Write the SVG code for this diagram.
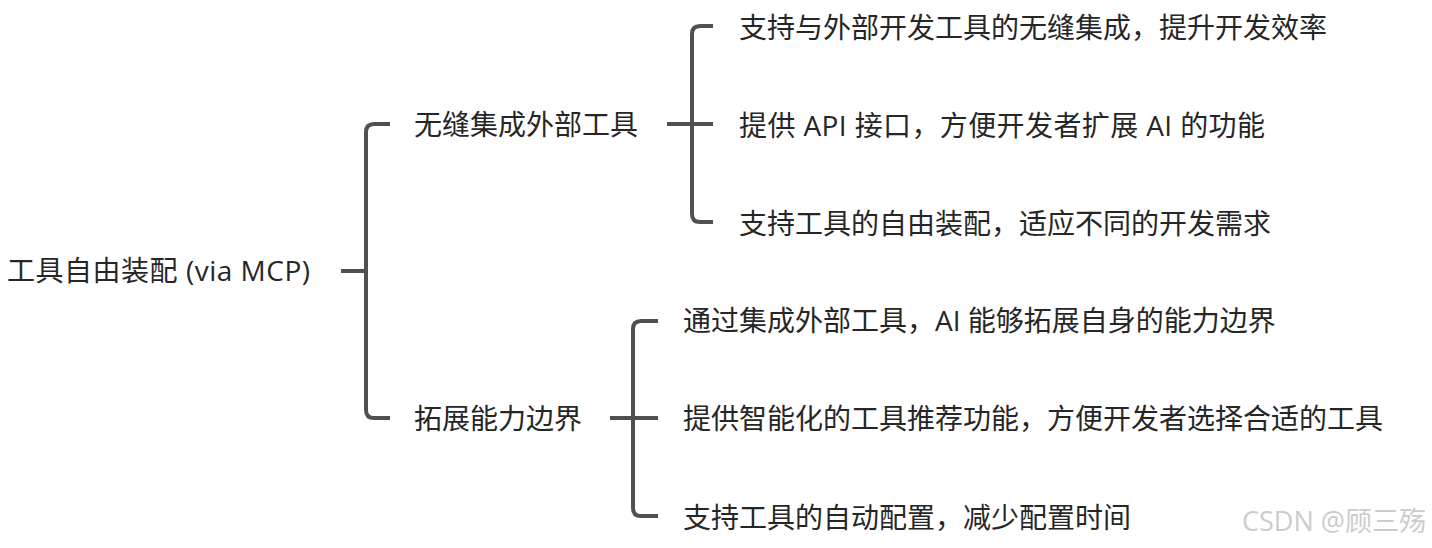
<svg xmlns="http://www.w3.org/2000/svg" width="1432" height="548" viewBox="0 0 1432 548">
<style>
text{font-family:'Open Sans','Noto Sans CJK SC',sans-serif;font-size:28px;fill:#262626}
.ln{fill:none;stroke:#505050;stroke-width:4;stroke-linecap:butt}
.wm{font-family:'Open Sans','Noto Sans CJK SC',sans-serif;font-size:27px;fill:#cccccc}
</style>
<rect width="1432" height="548" fill="#ffffff"/>
<g id="connectors">
<path class="ln" d="M341,271 H366"/>
<path class="ln" d="M390,124 H374 Q366,124 366,132 V410 Q366,418 374,418 H390"/>
<path class="ln" d="M667,124 H713"/>
<path class="ln" d="M713,26 H700 Q692,26 692,34 V214 Q692,222 700,222 H713"/>
<path class="ln" d="M610,418 H658"/>
<path class="ln" d="M658,321 H641 Q633,321 633,329 V508 Q633,516 641,516 H658"/>
</g>
<g id="root"><text x="7" y="281" textLength="303">工具自由装配 (via MCP)</text></g>
<g id="n1"><text x="414" y="135">无缝集成外部工具</text></g>
<g id="n1a"><text x="739" y="38">支持与外部开发工具的无缝集成，提升开发效率</text></g>
<g id="n1b"><text x="739" y="136" textLength="526">提供 API 接口，方便开发者扩展 AI 的功能</text></g>
<g id="n1c"><text x="739" y="234">支持工具的自由装配，适应不同的开发需求</text></g>
<g id="n2"><text x="414" y="429">拓展能力边界</text></g>
<g id="n2a"><text x="683" y="331">通过集成外部工具，AI 能够拓展自身的能力边界</text></g>
<g id="n2b"><text x="683" y="429">提供智能化的工具推荐功能，方便开发者选择合适的工具</text></g>
<g id="n2c"><text x="683" y="528">支持工具的自动配置，减少配置时间</text></g>
<g id="watermark"><text class="wm" x="1242" y="531">CSDN @顾三殇</text></g>
</svg>
